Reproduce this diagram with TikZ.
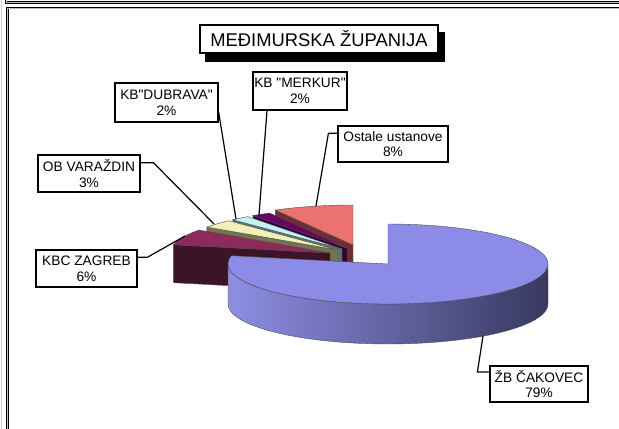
\documentclass[tikz,border=0pt]{standalone}
\usepackage{fontspec}
\setmainfont{Liberation Sans}[Ligatures=TeXOff]
\usetikzlibrary{math}
\usetikzlibrary{shadows}

\definecolor{blueTop}{RGB}{140,140,232}
\definecolor{blueLight}{RGB}{142,142,228}
\definecolor{blueDark}{RGB}{56,56,96}
\definecolor{pinkTop}{RGB}{236,114,114}
\definecolor{pinkSide}{RGB}{108,48,48}
\definecolor{purpTop}{RGB}{104,0,104}
\definecolor{purpSide}{RGB}{50,0,50}
\definecolor{cyanTop}{RGB}{196,242,242}
\definecolor{cyanSide}{RGB}{88,118,118}
\definecolor{creamTop}{RGB}{242,240,184}
\definecolor{creamSide}{RGB}{118,116,80}
\definecolor{kbcTop}{RGB}{140,42,92}
\definecolor{kbcSide}{RGB}{60,20,40}

\tikzset{
  frame/.style={draw=black, line width=0.5pt, double=gray!50, double distance=0.6pt},
  edge/.style={draw=black!70, line width=0.3pt},
  leader/.style={draw=black, line width=0.9pt},
  pielabel/.style={draw, line width=0.9pt, fill=white, align=center, inner sep=0pt,
    font=\fontsize{10.3}{11.8}\selectfont},
}

\begin{document}
\begin{tikzpicture}[x=0.75pt, y=-0.75pt]

\useasboundingbox (0,0) rectangle (619,429);

% okvir
\draw[gray!40, line width=0.75pt] (1.5,0) -- (1.5,429);
\draw[frame] (6,0) -- (6,2.5) -- (619,2.5);
\draw[frame] (7.5,429) -- (7.5,8) -- (619,8);

% Ostale ustanove
\tikzmath{ \cx = 353; \cy = 245; \angfrom = 90; \angto = 119; \hgt = 38; }
\filldraw[fill=pinkSide, edge] (\cx,\cy) -- ({\cx+160*cos(\angto)},{\cy-40*sin(\angto)}) -- ++(0,\hgt) -- ({\cx},{\cy+\hgt}) -- cycle;
\filldraw[fill=pinkTop, edge] (\cx,\cy) -- plot[domain=\angfrom:\angto, variable=\t, samples=20] ({\cx+160*cos(\t)},{\cy-40*sin(\t)}) -- cycle;
\coordinate (pOst) at (316,206);

% KB "MERKUR"
\tikzmath{ \cx = 347; \cy = 248; \angfrom = 119; \angto = 126; }
\filldraw[fill=purpSide, edge] (\cx,\cy) -- ({\cx+160*cos(\angto)},{\cy-40*sin(\angto)}) -- ++(0,\hgt) -- ({\cx},{\cy+\hgt}) -- cycle;
\filldraw[fill=purpTop, edge] (\cx,\cy) -- plot[domain=\angfrom:\angto, variable=\t, samples=8] ({\cx+160*cos(\t)},{\cy-40*sin(\t)}) -- cycle;
\coordinate (pMer) at (259,215);

% KB "DUBRAVA"
\tikzmath{ \cx = 342; \cy = 249; \angfrom = 126; \angto = 133; }
\filldraw[fill=cyanSide, edge] (\cx,\cy) -- ({\cx+160*cos(\angto)},{\cy-40*sin(\angto)}) -- ++(0,\hgt) -- ({\cx},{\cy+\hgt}) -- cycle;
\filldraw[fill=cyanTop, edge] (\cx,\cy) -- plot[domain=\angfrom:\angto, variable=\t, samples=8] ({\cx+160*cos(\t)},{\cy-40*sin(\t)}) -- cycle;
\coordinate (pDub) at (236,219);

% OB VARAZDIN
\tikzmath{ \cx = 338; \cy = 250; \angfrom = 133; \angto = 145; }
\filldraw[fill=creamSide, edge] (\cx,\cy) -- ({\cx+160*cos(\angto)},{\cy-40*sin(\angto)}) -- ++(0,\hgt) -- ({\cx},{\cy+\hgt}) -- cycle;
\filldraw[fill=creamTop, edge] (\cx,\cy) -- plot[domain=\angfrom:\angto, variable=\t, samples=10] ({\cx+160*cos(\t)},{\cy-40*sin(\t)}) -- cycle;
\coordinate (pOB) at (214,224);

% KBC ZAGREB
\tikzmath{ \cx = 330; \cy = 253; \angfrom = 145; \angto = 168; }
\filldraw[fill=kbcSide, edge] (\cx,\cy) -- ({\cx+160*cos(\angto)},{\cy-40*sin(\angto)}) -- ++(0,\hgt) -- ({\cx},{\cy+\hgt}) -- cycle;
\filldraw[fill=kbcTop, edge] (\cx,\cy) -- plot[domain=\angfrom:\angto, variable=\t, samples=16] ({\cx+160*cos(\t)},{\cy-40*sin(\t)}) -- cycle;
\coordinate (pKBC) at (185,236);

% ZB CAKOVEC
\tikzmath{ \cx = 388; \cy = 264; \angfrom = 168; \angto = 450; \hgt = 40; }
\path[left color=blueLight, right color=blueDark, edge]
  plot[domain=180:360, variable=\t, samples=40] ({\cx+160*cos(\t)},{\cy-40*sin(\t)})
  -- plot[domain=360:180, variable=\t, samples=40] ({\cx+160*cos(\t)},{\cy+\hgt-40*sin(\t)}) -- cycle;
\filldraw[fill=blueTop, edge] (\cx,\cy) -- plot[domain=\angfrom:\angto, variable=\t, samples=80] ({\cx+160*cos(\t)},{\cy-40*sin(\t)}) -- cycle;
\coordinate (pZB) at (483,336);

% naslov
\node[draw, line width=0.9pt, fill=white, inner sep=0pt, minimum width=178.5pt, minimum height=21pt,
  font=\fontsize{13.8}{16}\selectfont,
  copy shadow={shadow xshift=4.5pt, shadow yshift=-6pt, fill=black, draw=black}]
  (title) at (319,39) {MEĐIMURSKA ŽUPANIJA};

% oznake
\node[pielabel, minimum width=77.25pt, minimum height=29.25pt] (lDub) at (166.5,102.5) {KB"DUBRAVA"\\2\%};
\node[pielabel, minimum width=70.5pt, minimum height=28.5pt] (lMer) at (300,91) {KB "MERKUR"\\2\%};
\node[pielabel, minimum width=82.5pt, minimum height=27pt] (lOst) at (393,144) {Ostale ustanove\\8\%};
\node[pielabel, minimum width=76.5pt, minimum height=27.75pt] (lOB) at (89,173.5) {OB VARAŽDIN\\3\%};
\node[pielabel, minimum width=75.75pt, minimum height=27.75pt] (lKBC) at (86.5,268.5) {KBC ZAGREB\\6\%};
\node[pielabel, minimum width=73.5pt, minimum height=27pt] (lZB) at (539,384) {ŽB ČAKOVEC\\79\%};

% linije
\draw[leader] ([yshift=-7pt]lDub.east) -- (pDub);
\draw[leader] ([xshift=-24.75pt]lMer.south) -- (pMer);
\draw[leader] ([yshift=8pt]lOst.west) -- ++(-9,0) -- (pOst);
\draw[leader] ([yshift=8pt]lOB.east) -- ++(13,0) -- (pOB);
\draw[leader] ([yshift=8.5pt]lKBC.east) -- ++(10,0) -- (pKBC);
\draw[leader] ([yshift=9pt]lZB.west) -- ++(-12,0) -- (pZB);

\end{tikzpicture}
\end{document}
